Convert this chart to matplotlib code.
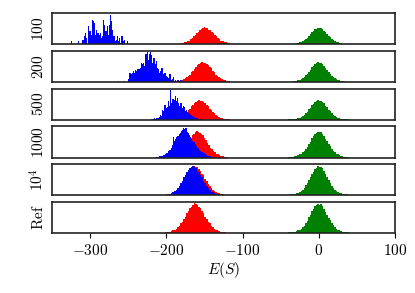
import numpy as np
import matplotlib.pyplot as plt
from matplotlib.ticker import FuncFormatter

plt.rcParams['font.family'] = 'serif'
plt.rcParams['mathtext.fontset'] = 'cm'
plt.rcParams['font.size'] = 11

# row labels (sample sizes)
row_labels = [r'$100$', r'$200$', r'$500$', r'$1000$', r'$10^4$', r'$\mathrm{Ref}$']

# green histogram (same in every row), bins of width 2 starting at green_start
green_start = -40
green_width = 2
green_counts = [2, 3, 3, 4, 5, 7, 9, 12, 15, 20, 25, 34, 42, 54, 62, 75, 82, 92, 96, 101,
                98, 99, 93, 84, 73, 64, 52, 44, 33, 27, 20, 15, 12, 9, 7, 5, 4, 3, 3, 2]

# red histogram, bins of width 2, start per row
red_width = 2
red_starts = [-189, -192, -196, -199, -202, -202]
red_counts = [2, 3, 4, 5, 7, 9, 12, 15, 20, 24, 33, 39, 50, 57, 69, 76, 86, 91, 98, 103,
              99, 97, 90, 86, 75, 70, 57, 50, 39, 33, 24, 20, 15, 12, 9, 7, 5, 4, 3, 2]

# blue histograms (rows 1-5)
blue_widths = [1.5, 1.5, 1.5, 1.5, 2]
blue_starts = [-325, -265, -222, -214, -200]
blue_100 = [20, 0, 0, 0, 0, 0, 24, 0, 0, 0, 30, 50, 70, 40, 0, 110, 80, 60, 150, 140,
            130, 60, 90, 70, 60, 70, 40, 50, 150, 120, 80, 110, 60, 120, 180, 140, 90, 50,
            20, 30, 50, 20, 40, 10, 50, 20, 30, 0, 0, 24]
blue_200 = [0, 8, 0, 0, 0, 0, 8, 0, 0, 0, 16, 46, 41, 49, 57, 46, 62, 57, 69, 66, 74, 95,
            90, 98, 82, 144, 151, 115, 144, 151, 139, 98, 123, 90, 107, 74, 69, 49, 57, 74,
            41, 49, 46, 33, 25, 20, 41, 13, 16, 25, 8, 13, 0, 10, 7, 13, 8, 5]
blue_500 = [0, 5, 7, 5, 9, 7, 10, 9, 14, 26, 21, 52, 43, 78, 61, 66, 95, 69, 152, 87, 107,
            104, 121, 95, 112, 87, 73, 87, 61, 69, 66, 43, 52, 38, 35, 26, 24, 21, 14, 14,
            10, 9, 7, 5, 5, 3]
blue_1000 = [3, 4, 3, 7, 5, 8, 10, 9, 13, 18, 16, 24, 29, 37, 50, 79, 66, 73, 81, 84, 92,
             94, 102, 105, 115, 110, 113, 100, 94, 89, 81, 73, 66, 60, 52, 45, 39, 37, 29,
             26, 21, 16, 16, 12, 10, 8, 7, 5, 4, 3, 3, 1]
blue_1e4 = [2, 3, 4, 6, 10, 14, 18, 26, 31, 42, 50, 62, 70, 81, 87, 96, 98, 101, 97, 96,
            86, 81, 69, 62, 49, 42, 31, 26, 18, 13, 10, 7, 5, 4, 3, 2]
blue_all = [blue_100, blue_200, blue_500, blue_1000, blue_1e4]


def edges(start, width, n):
    return start + width * np.arange(n + 1)


fig, axes = plt.subplots(6, 1, figsize=(4.15, 2.93), dpi=100, sharex=True)
fig.subplots_adjust(left=0.1253, right=0.952, top=0.9546, bottom=0.2048, hspace=0.21)

for i, ax in enumerate(axes):
    ax.stairs(red_counts, edges(red_starts[i], red_width, len(red_counts)),
              fill=True, color='red', lw=0)
    ax.stairs(green_counts, edges(green_start, green_width, len(green_counts)),
              fill=True, color='green', lw=0)
    if i < 5:
        b = blue_all[i]
        ax.stairs(b, edges(blue_starts[i], blue_widths[i], len(b)),
                  fill=True, color='blue', lw=0)
    ax.set_ylim(bottom=0)
    ax.set_yticks([])
    ax.set_ylabel(row_labels[i])
    for s in ax.spines.values():
        s.set_linewidth(1.2)
        s.set_color('#222222')
    if i < 5:
        ax.tick_params(axis='x', bottom=False, labelbottom=False)

axes[-1].set_xlim(-350, 100)
axes[-1].set_xticks([-300, -200, -100, 0, 100])
axes[-1].xaxis.set_major_formatter(FuncFormatter(lambda v, p: r'$%d$' % v))
axes[-1].set_xlabel(r'$E(S)$', labelpad=2)

fig.savefig('out.png', dpi=100)
